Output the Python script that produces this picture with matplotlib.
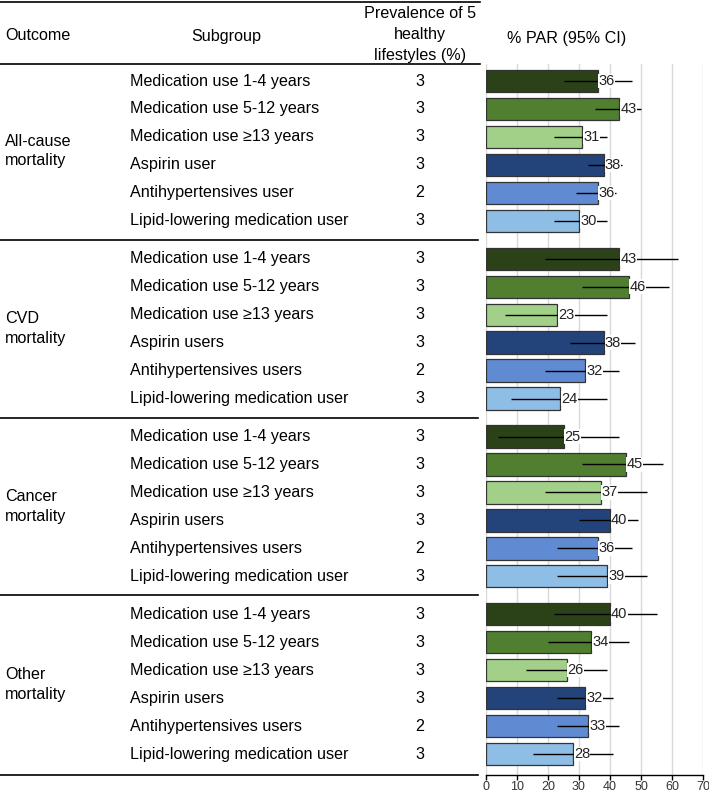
import matplotlib
matplotlib.use("Agg")
import matplotlib.pyplot as plt
import matplotlib.transforms as mtransforms
import numpy as np

plt.rcParams['font.family'] = ['Liberation Sans', 'DejaVu Sans']

outcomes = ["All-cause\nmortality", "CVD\nmortality", "Cancer\nmortality", "Other\nmortality"]
subgroups = [
    ["Medication use 1-4 years", "Medication use 5-12 years", "Medication use \u226513 years",
     "Aspirin user", "Antihypertensives user", "Lipid-lowering medication user"],
    ["Medication use 1-4 years", "Medication use 5-12 years", "Medication use \u226513 years",
     "Aspirin users", "Antihypertensives users", "Lipid-lowering medication user"],
    ["Medication use 1-4 years", "Medication use 5-12 years", "Medication use \u226513 years",
     "Aspirin users", "Antihypertensives users", "Lipid-lowering medication user"],
    ["Medication use 1-4 years", "Medication use 5-12 years", "Medication use \u226513 years",
     "Aspirin users", "Antihypertensives users", "Lipid-lowering medication user"],
]
prevalence = [
    [3, 3, 3, 3, 2, 3],
    [3, 3, 3, 3, 2, 3],
    [3, 3, 3, 3, 2, 3],
    [3, 3, 3, 3, 2, 3],
]
par = [
    [36, 43, 31, 38, 36, 30],
    [43, 46, 23, 38, 32, 24],
    [25, 45, 37, 40, 36, 39],
    [40, 34, 26, 32, 33, 28],
]
ci_low = [
    [25, 35, 22, 33, 29, 22],
    [19, 31, 6, 27, 19, 8],
    [4, 31, 19, 30, 23, 23],
    [22, 20, 13, 23, 23, 15],
]
ci_high = [
    [47, 50, 39, 44, 42, 39],
    [62, 59, 39, 48, 43, 39],
    [43, 57, 52, 49, 47, 52],
    [55, 46, 39, 41, 43, 41],
]
colors = ["#2b4219", "#4f7f2f", "#a2d088", "#23437b", "#608bd3", "#8ebde5"]
xticks = [0, 10, 20, 30, 40, 50, 60, 70]

W, H = 709, 794
fig = plt.figure(figsize=(W / 100, H / 100), dpi=100)

def fx(px):
    return px / W

def fy(py):
    return 1 - py / H

gap = 0.36
ypos = []
for g in range(4):
    for r in range(6):
        ypos.append(g * (6 + gap) + r)
ypos = np.array(ypos)
top_lim = -0.61
bot_lim = ypos[-1] + 0.75

ax = fig.add_axes([fx(486), fy(775), fx(703) - fx(486), fy(64) - fy(775)])
ax.set_xlim(0, 70)
ax.set_ylim(bot_lim, top_lim)

vals = np.array(par).ravel()
lo = np.array(ci_low).ravel()
hi = np.array(ci_high).ravel()
cols = colors * 4

ax.barh(ypos, vals, height=0.8, color=cols, edgecolor="#333333", linewidth=0.9, zorder=2)
ax.errorbar(vals, ypos, xerr=[vals - lo, hi - vals], fmt="none", ecolor="black",
            elinewidth=1.0, capsize=0, zorder=3)
for v, y in zip(vals, ypos):
    ax.text(v + 0.35, y, f"{v:d}", ha="left", va="center", fontsize=10.5, color="#222222",
            zorder=4, bbox=dict(facecolor="white", edgecolor="none", pad=0.2))

ax.set_xticks(xticks)
ax.set_xticklabels([str(t) for t in xticks], fontsize=9, color="#333333")
ax.set_yticks([])
ax.grid(axis="x", color="#d9d9d9", linewidth=1.0, zorder=0)
ax.set_axisbelow(True)
for s in ["left", "right", "top"]:
    ax.spines[s].set_visible(False)
ax.spines["bottom"].set_color("black")
ax.spines["bottom"].set_linewidth(1.0)
ax.tick_params(axis="x", length=3.5, width=1.0, color="black", pad=0.5)

# table text, x in figure coords, y in data coords
trans = mtransforms.blended_transform_factory(fig.transFigure, ax.transData)
fs = 11.6
for g in range(4):
    for r in range(6):
        y = ypos[g * 6 + r]
        fig.text(fx(130), y, subgroups[g][r], transform=trans, ha="left", va="center", fontsize=fs)
        fig.text(fx(420), y, str(prevalence[g][r]), transform=trans, ha="center", va="center", fontsize=fs)
    mid = (ypos[g * 6] + ypos[g * 6 + 5]) / 2
    fig.text(fx(5), mid, outcomes[g], transform=trans, ha="left", va="center",
             fontsize=fs, linespacing=1.4)

# separator lines
line_kw = dict(color="black", linewidth=1.2)
for g in range(1, 4):
    ysep = (ypos[g * 6 - 1] + ypos[g * 6]) / 2
    fig.add_artist(plt.Line2D([0, fx(478)], [ysep, ysep], transform=trans, **line_kw))
fig.add_artist(plt.Line2D([0, fx(478)], [bot_lim, bot_lim], transform=trans, **line_kw))
fig.add_artist(plt.Line2D([0, fx(480)], [fy(64), fy(64)], transform=fig.transFigure, **line_kw))
fig.add_artist(plt.Line2D([0, fx(480)], [fy(1.5), fy(1.5)], transform=fig.transFigure, **line_kw))

# headers
fig.text(fx(5), fy(36), "Outcome", ha="left", va="center", fontsize=fs)
fig.text(fx(226), fy(36), "Subgroup", ha="center", va="center", fontsize=fs)
fig.text(fx(420), fy(34.5), "Prevalence of 5\nhealthy\nlifestyles (%)", ha="center", va="center",
         fontsize=fs, linespacing=1.5)
fig.text(fx(567), fy(38), "% PAR (95% CI)", ha="center", va="center", fontsize=fs)

fig.savefig("out.png", dpi=100)
